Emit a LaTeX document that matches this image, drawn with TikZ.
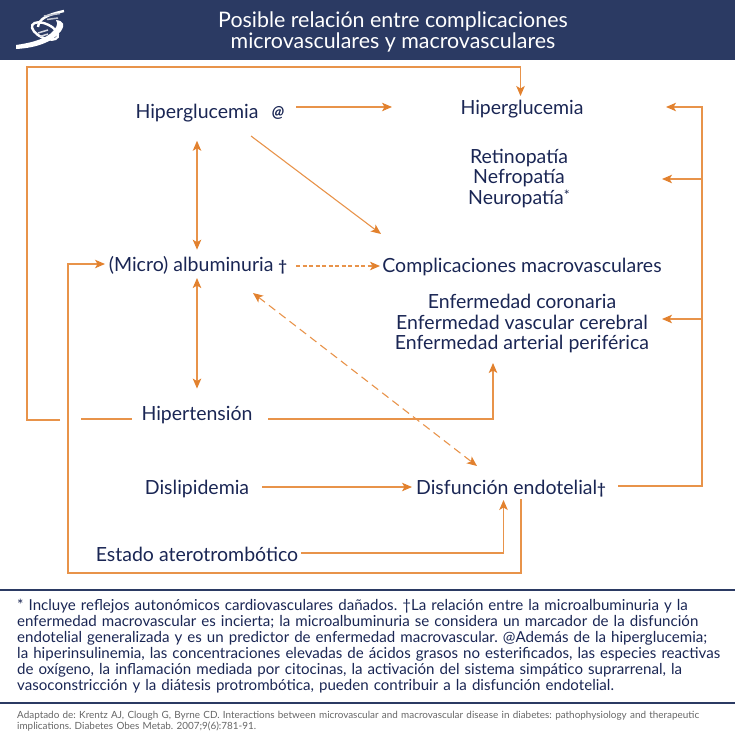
\documentclass[tikz,border=0pt]{standalone}
\usepackage{fontspec}
\setmainfont{Lato}
\usepackage{xcolor}
\usepackage{graphicx}
\usetikzlibrary{arrows.meta, positioning, calc}

\definecolor{navy}{HTML}{1A2654}
\definecolor{band}{HTML}{2B3A63}
\definecolor{naranja}{HTML}{E8934A}
\definecolor{punta}{HTML}{E2812E}

\newcommand{\cruz}{{\fontsize{15}{15}\selectfont\bfseries †}}

\tikzset{
  lbl/.style={anchor=base, inner sep=0pt, text=navy, font=\fontsize{19.5}{20.5}\selectfont, align=center},
  lin/.style={naranja, line width=1.1pt},
  arr/.style={lin, -{Stealth[length=10pt,width=8.5pt,inset=2.5pt,color=punta]}},
  dbl/.style={lin, {Stealth[length=10pt,width=8.5pt,inset=2.5pt,color=punta]}-{Stealth[length=10pt,width=8.5pt,inset=2.5pt,color=punta]}},
  rule/.style={band, line width=1.5pt}
}

\begin{document}
\frenchspacing
\begin{tikzpicture}[x=1pt, y=-1pt]
\useasboundingbox (0,0) rectangle (735,735);

% header
\fill[band] (0,0) rectangle (735,60);
\node[inner sep=0pt, text=white, align=center, font=\fontsize{21.4}{20.5}\selectfont] (titulo) at (393,32)
  {Posible relación entre complicaciones\\microvasculares y macrovasculares};

% logo
\fill[white] (16,49) .. controls (36,48) and (53,42) .. (61,31) .. controls (65,25) and (64,21) .. (56,20)
  .. controls (59,24) and (56,29) .. (50,34) .. controls (42,40) and (30,43) .. (16,45) -- cycle;
\draw[white, line width=2.4pt, rotate around={-25:(45,31)}] (45,31) ellipse (14 and 7);
\draw[white, line width=2.4pt] (38,27) .. controls (39,19) and (46,15) .. (64,11);
\draw[white!70!band, line width=1.5pt] (44,16) -- (60,13.5);
\draw[white!70!band, line width=1.5pt] (47,19.5) -- (58,18);
\draw[white!80!band, line width=1.5pt] (38,33) -- (48,30);
\draw[white!80!band, line width=1.5pt] (40,36.5) -- (48,34);

% boxes of text
\node[lbl] (hipa) at (197,119) {Hiperglucemia};
\node[lbl, font=\fontsize{16}{18}\selectfont\bfseries\itshape] (arroba) at (278,118) {@};
\node[lbl] (hipb) at (522,114.5) {Hiperglucemia};
\node[lbl, anchor=center] (micro) at (519,178.5) {Retinopatía\\Nefropatía\\Neuropatía\raisebox{3.5pt}{\fontsize{14}{14}\selectfont *}};
\node[lbl] (albu) at (198,271) {(Micro) albuminuria \cruz};
\node[lbl] (macro) at (522,272) {Complicaciones macrovasculares};
\node[lbl, anchor=center] (enf) at (522,323.5) {Enfermedad coronaria\\Enfermedad vascular cerebral\\Enfermedad arterial periférica};
\node[lbl] (hipt) at (197,420) {Hipertensión};
\node[lbl] (disl) at (197,494) {Dislipidemia};
\node[lbl] (disf) at (511,494) {Disfunción endotelial\cruz};
\node[lbl] (estado) at (197,561) {Estado aterotrombótico};

% free ends
\coordinate (a1) at (296,107);
\coordinate (a2) at (392,107);
\coordinate (b1) at (251,136);
\coordinate (b2) at (381,234);
\coordinate (c1) at (296,266);
\coordinate (c2) at (380,266);
\coordinate (d1) at (253,293);
\coordinate (d2) at (477,466);
\coordinate (e1) at (60,420);
\coordinate (e2) at (27,420);
\coordinate (e3) at (27,67);
\coordinate (e4) at (520.5,67);
\coordinate (e5) at (520.5,96);
\coordinate (f1) at (81,419);
\coordinate (f2) at (132,419);
\coordinate (g1) at (268,419);
\coordinate (g2) at (493,419);
\coordinate (g3) at (493,363);
\coordinate (h1) at (262,487);
\coordinate (h2) at (412,487);
\coordinate (i1) at (301,553);
\coordinate (i2) at (503.5,553);
\coordinate (i3) at (503.5,500);
\coordinate (j1) at (521,499);
\coordinate (j2) at (521,573);
\coordinate (j3) at (68,573);
\coordinate (j4) at (68,264);
\coordinate (j5) at (105,264);
\coordinate (k1) at (618,486);
\coordinate (k2) at (702,486);
\coordinate (k3) at (702,107);
\coordinate (k4) at (666,107);
\coordinate (k5) at (702,179);
\coordinate (k6) at (662,179);
\coordinate (k7) at (702,319);
\coordinate (k8) at (662,319);

% connectors
\draw[arr] (a1) -- (a2);
\draw[arr] (b1) -- (b2);
\draw[arr, dash pattern=on 4pt off 2.5pt] (c1) -- (c2);
\draw[dbl, dash pattern=on 8pt off 5pt] (d1) -- (d2);
\draw[dbl, shorten <=18pt, shorten >=6pt] (hipa.south) -- (albu.north -| hipa.south);
\draw[dbl, shorten <=4pt, shorten >=17pt] (albu.south -| hipt.north) -- (hipt.north);
\draw[arr] (e1) -- (e2) -- (e3) -- (e4) -- (e5);
\draw[lin] (f1) -- (f2);
\draw[arr] (g1) -- (g2) -- (g3);
\draw[arr] (h1) -- (h2);
\draw[arr] (i1) -- (i2) -- (i3);
\draw[arr] (j1) -- (j2) -- (j3) -- (j4) -- (j5);
\draw[arr] (k1) -- (k2) -- (k3) -- (k4);
\draw[arr] (k5) -- (k6);
\draw[arr] (k7) -- (k8);

% notes
\draw[rule] (0,590) -- (735,590);
\draw[rule] (0,703) -- (735,703);
\node[inner sep=0pt, anchor=north west, text=navy, text width=703pt, font=\fontsize{15.1}{16}\selectfont] (nota) at (17,598.5)
  {* Incluye reflejos autonómicos cardiovasculares dañados. †La relación entre la microalbuminuria y la\linebreak
  enfermedad macrovascular es incierta; la microalbuminuria se considera un marcador de la disfunción\linebreak
  endotelial generalizada y es un predictor de enfermedad macrovascular. @Además de la hiperglucemia;\linebreak
  \resizebox{703pt}{\height}{la hiperinsulinemia, las concentraciones elevadas de ácidos grasos no esterificados, las especies reactivas}\linebreak
  de oxígeno, la inflamación mediada por citocinas, la activación del sistema simpático suprarrenal, la\linebreak
  vasoconstricción y la diátesis protrombótica, pueden contribuir a la disfunción endotelial.};
\node[inner sep=0pt, anchor=north west, text=black!60, text width=710pt, font=\fontsize{9.9}{11.5}\selectfont] (fuente) at (17,710.5)
  {Adaptado de: Krentz AJ, Clough G, Byrne CD. Interactions between microvascular and macrovascular disease in diabetes: pathophysiology and therapeutic\\
  implications. Diabetes Obes Metab. 2007;9(6):781-91.};
\end{tikzpicture}
\end{document}
